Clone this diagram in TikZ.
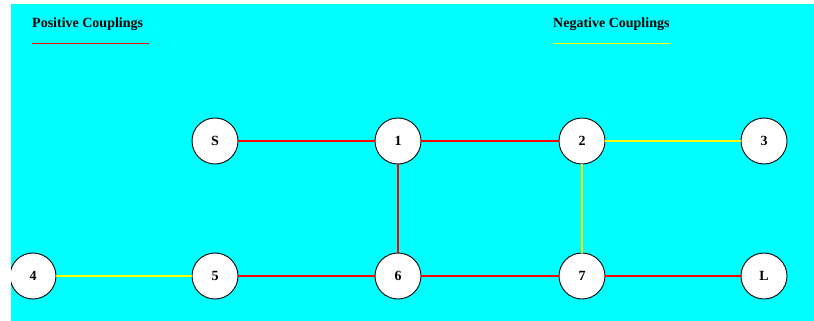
\documentclass[tikz,border=0pt]{standalone}
\usepackage{fontspec}
\setmainfont{Liberation Serif}
\definecolor{bgcyan}{RGB}{0,255,255}
\definecolor{posred}{RGB}{255,0,0}
\definecolor{negyellow}{RGB}{255,255,0}
\tikzset{
  px/.style={x=1pt,y=-1pt},
  res/.style={circle,draw=black,line width=0.9pt,fill=white,minimum size=46pt,inner sep=0pt,
              font=\fontsize{14}{16}\selectfont\bfseries},
  poscoup/.style={draw=posred,line width=1.8pt},
  negcoup/.style={draw=negyellow,line width=1.8pt},
  legendtext/.style={anchor=west,inner sep=0pt,font=\fontsize{14}{16}\selectfont\bfseries},
}
\begin{document}
\begin{tikzpicture}[px]
  \useasboundingbox (0,0) rectangle (814,321);
  \fill[white] (0,0) rectangle (814,321);
  \fill[bgcyan] (11,4) rectangle (814,321);

  % legend
  \node[legendtext] (lpos) at (32,24) {Positive Couplings};
  \node[legendtext] (lneg) at (553,24) {Negative Couplings};
  \coordinate (lposa) at (32,43);
  \coordinate (lposb) at (149,43);
  \coordinate (lnega) at (553,43);
  \coordinate (lnegb) at (670,43);
  \draw[draw=posred,line width=0.9pt] (lposa) -- (lposb);
  \draw[draw=negyellow,line width=0.9pt] (lnega) -- (lnegb);

  % resonators
  \node[res] (S) at (215,141) {S};
  \node[res] (n1) at (398,141) {1};
  \node[res] (n2) at (582,141) {2};
  \node[res] (n3) at (764,141) {3};
  \node[res] (n4) at (33,276) {4};
  \node[res] (n5) at (215,276) {5};
  \node[res] (n6) at (398,276) {6};
  \node[res] (n7) at (582,276) {7};
  \node[res] (L) at (764,276) {L};

  % couplings
  \draw[poscoup] (S) -- (n1);
  \draw[poscoup] (n1) -- (n2);
  \draw[negcoup] (n2) -- (n3);
  \draw[poscoup] (n1) -- (n6);
  \draw[negcoup] (n2) -- (n7);
  \draw[negcoup] (n4) -- (n5);
  \draw[poscoup] (n5) -- (n6);
  \draw[poscoup] (n6) -- (n7);
  \draw[poscoup] (n7) -- (L);

  % left margin stays white over the edge resonator
  \fill[white] (0,0) rectangle (11,321);
\end{tikzpicture}
\end{document}
